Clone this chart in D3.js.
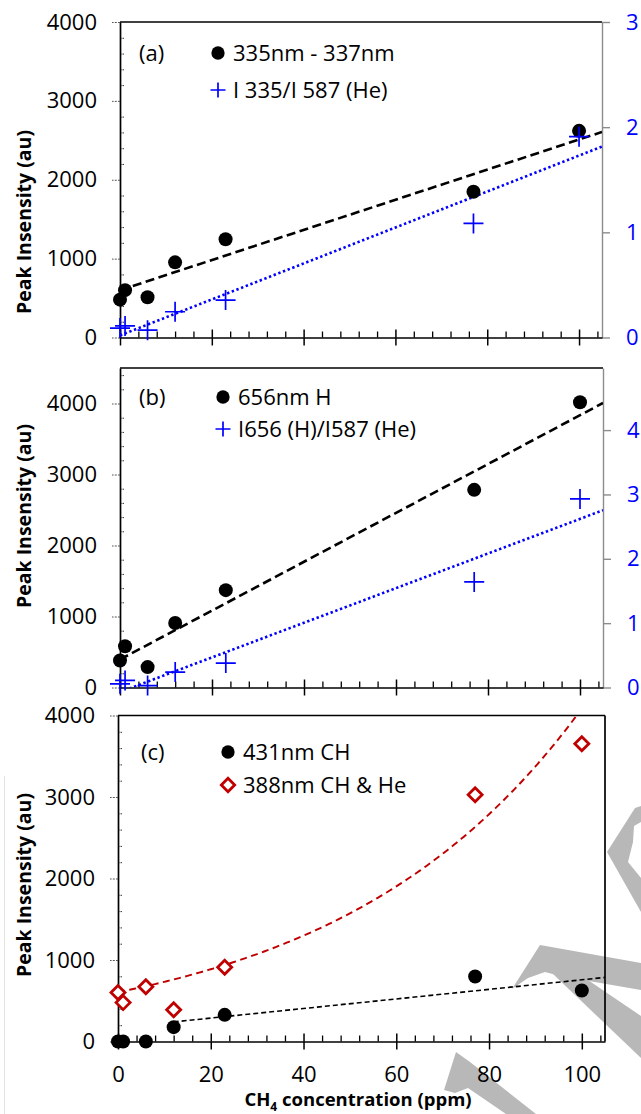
<!DOCTYPE html>
<html>
<head>
<meta charset="utf-8">
<script src="https://cdn.jsdelivr.net/npm/d3@7"></script>
<style>
  body { margin: 0; background: #fff; }
  svg { display: block; font-family: "Open Sans", Lato, sans-serif; }
</style>
</head>
<body>
<svg></svg>
<script>
// CH4 concentration (ppm), same for every series
const conc = [0, 1.1, 6, 12, 23, 77, 100];

// panel (a)
const band335 = [480, 600, 510, 953, 1245, 1848, 2620];
const ratio335 = [0.09, 0.11, 0.07, 0.245, 0.356, 1.085, 1.91];
// panel (b)
const line656 = [381, 580, 287, 909, 1371, 2784, 4018];
const ratio656 = [0.057, 0.11, 0.03, 0.24, 0.38, 1.64, 2.93];
// panel (c)
const ch431 = [0, 0, 0, 176, 327, 797, 626];
const ch388 = [600, 477, 673, 389, 912, 3027, 3653];

// trend lines: [intercept, slope] (linear) or [a, b] for a*exp(b*x)
const fit335 = [600, 19.1];
const fitRatio335 = [0.02, 0.0171];
const fit656 = [395, 34.4];
const fitRatio656 = [-0.07, 0.0269];
const fit431 = [170, 5.87];
const fit388 = [605, 0.0191];

const xTicks = [0, 20, 40, 60, 80, 100];
const leftTicks = [0, 1000, 2000, 3000, 4000];

const width = 641, height = 1114;
const blue = "#0000ff", red = "#c00000";
const tickFont = 22;

const svg = d3.select("svg")
    .attr("width", width)
    .attr("height", height);

// grey watermark in the lower right corner (under the chart)
const wm = svg.append("g").attr("fill", "#b8b8b8");
wm.append("path").attr("d", "M635,808 L641,806 L641,822 L634,826 L633,842 L628,862 L641,878 L641,912 L607,852 Z");
wm.append("path").attr("d", "M540,945 L641,963 L641,990 L560,976 L545,972 L528,978 L512,989 Z");
wm.append("path").attr("d", "M553,974 L582,976 L641,1016 L641,1058 Z");
wm.append("path").attr("d", "M456,1052 L470,1062 L536,1114 L506,1114 L468,1088 L455,1093 L444,1090 Z");

// faint chart-area frame of the last chart
svg.append("line")
    .attr("x1", 4.5).attr("x2", 4.5).attr("y1", 776).attr("y2", height)
    .attr("stroke", "#e2e2e2");

const panels = [
    {
        id: "a", label: "(a)", x0: 120, x1: 602, top: 22, bottom: 337.5, leftMax: 4000,
        rightMax: 3, rightTicks: [0, 1, 2, 3], titleY: 222,
        legendX: 218, legendY: [53, 90], labelX: 139,
        series: [
            { name: "335nm - 337nm", values: band335, axis: "left", mark: "circle" },
            { name: "I 335/I 587 (He)", values: ratio335, axis: "right", mark: "plus" }
        ],
        fits: [
            { coef: fit335, axis: "left", from: 0, kind: "lin", color: "#000", w: 2.6, dash: "9,4.5" },
            { coef: fitRatio335, axis: "right", from: 0, kind: "lin", color: blue, w: 2.6, dash: "2.4,2.6" }
        ]
    },
    {
        id: "b", label: "(b)", x0: 120, x1: 603, top: 368, bottom: 687.5, leftMax: 4500,
        rightMax: 4.965, rightTicks: [0, 1, 2, 3, 4], titleY: 516,
        legendX: 223, legendY: [397, 429], labelX: 139,
        series: [
            { name: "656nm H", values: line656, axis: "left", mark: "circle" },
            { name: "I656 (H)/I587 (He)", values: ratio656, axis: "right", mark: "plus" }
        ],
        fits: [
            { coef: fit656, axis: "left", from: 0, kind: "lin", color: "#000", w: 2.6, dash: "9,4.5" },
            { coef: fitRatio656, axis: "right", from: 0, kind: "lin", color: blue, w: 2.6, dash: "2.4,2.6" }
        ]
    },
    {
        id: "c", label: "(c)", x0: 118, x1: 605, top: 715.5, bottom: 1041.5, leftMax: 4000,
        rightMax: null, titleY: 885,
        legendX: 228, legendY: [752, 785], labelX: 141, xLabels: true,
        series: [
            { name: "431nm CH", values: ch431, axis: "left", mark: "circle" },
            { name: "388nm CH & He", values: ch388, axis: "left", mark: "diamond" }
        ],
        fits: [
            { coef: fit431, axis: "left", from: 12, kind: "lin", color: "#000", w: 1.6, dash: "5,3" },
            { coef: fit388, axis: "left", from: 0, kind: "exp", color: red, w: 1.9, dash: "7,4.5" }
        ]
    }
];

function marker(g, mark, size) {
    if (mark === "circle") {
        g.append("circle").attr("r", 7 * size).attr("fill", "#000");
    } else if (mark === "plus") {
        const s = 10 * size;
        g.append("path").attr("d", `M${-s},0H${s}M0,${-s}V${s}`)
            .attr("stroke", blue).attr("stroke-width", 1.7).attr("fill", "none");
    } else {
        const s = 7 * size;
        g.append("path").attr("d", `M0,${-s}L${s},0L0,${s}L${-s},0Z`)
            .attr("stroke", red).attr("stroke-width", 2.8).attr("fill", "#fff");
    }
}

panels.forEach(p => {
    const g = svg.append("g").attr("class", "panel-" + p.id);

    const x = d3.scaleLinear().domain([0, 105]).range([p.x0, p.x1]);
    const yL = d3.scaleLinear().domain([0, p.leftMax]).range([p.bottom, p.top]);
    const yR = p.rightMax ? d3.scaleLinear().domain([0, p.rightMax]).range([p.bottom, p.top]) : null;

    // top border
    g.append("line")
        .attr("x1", p.x0).attr("x2", p.x1).attr("y1", p.top).attr("y2", p.top)
        .attr("stroke", "#000").attr("stroke-width", 1.7);

    // right axis or border
    if (yR) {
        const ra = g.append("g")
            .attr("transform", `translate(${p.x1},0)`)
            .call(d3.axisRight(yR).tickValues(p.rightTicks).tickSize(8).tickSizeOuter(0).tickPadding(16).tickFormat(d3.format("d")));
        ra.select(".domain").attr("stroke", "#8c8c8c").attr("stroke-width", 1.4);
        ra.selectAll(".tick line").attr("stroke", "#8c8c8c").attr("stroke-width", 1.4);
        ra.selectAll(".tick text").attr("fill", blue).attr("font-size", tickFont).attr("font-family", "Open Sans");
    } else {
        g.append("line")
            .attr("x1", p.x1).attr("x2", p.x1).attr("y1", p.top).attr("y2", p.bottom)
            .attr("stroke", "#000").attr("stroke-width", 1.7);
    }

    // left axis: major ticks outside, minor ticks inside
    const minorY = d3.range(200, p.leftMax, 200).filter(v => v % 1000 !== 0);
    g.append("g")
        .attr("transform", `translate(${p.x0},0)`)
        .call(d3.axisRight(yL).tickValues(minorY).tickSize(5).tickSizeOuter(0).tickFormat(""))
        .call(a => a.select(".domain").remove())
        .selectAll(".tick line").attr("stroke", "#333").attr("stroke-dasharray", "1.5,1");

    const la = g.append("g")
        .attr("transform", `translate(${p.x0},0)`)
        .call(d3.axisLeft(yL).tickValues(leftTicks).tickSize(8).tickSizeOuter(0).tickPadding(15).tickFormat(d3.format("d")));
    la.select(".domain").attr("stroke", "#000").attr("stroke-width", 1.7);
    la.selectAll(".tick line").attr("stroke", "#555").attr("stroke-dasharray", "2,1.2");
    la.selectAll(".tick text").attr("fill", "#000").attr("font-size", tickFont).attr("font-family", "Open Sans");

    // bottom axis: major ticks cross the line, minor ticks inside
    const minorX = d3.range(4, 105, 4).filter(v => v % 20 !== 0);
    g.append("g")
        .attr("transform", `translate(0,${p.bottom})`)
        .call(d3.axisTop(x).tickValues(minorX).tickSize(6).tickSizeOuter(0).tickFormat(""))
        .call(a => a.select(".domain").remove())
        .selectAll(".tick line").attr("stroke", "#000").attr("stroke-width", 1.3);

    g.append("g")
        .attr("transform", `translate(0,${p.bottom})`)
        .call(d3.axisTop(x).tickValues(xTicks).tickSize(8).tickSizeOuter(0).tickFormat(""))
        .call(a => a.select(".domain").remove())
        .selectAll(".tick line").attr("stroke", "#000").attr("stroke-width", 1.5);

    const ba = g.append("g")
        .attr("transform", `translate(0,${p.bottom})`)
        .call(d3.axisBottom(x).tickValues(xTicks).tickSize(8).tickSizeOuter(0).tickPadding(17)
            .tickFormat(p.xLabels ? d3.format("d") : ""));
    ba.select(".domain").attr("stroke", "#000").attr("stroke-width", 1.7);
    ba.selectAll(".tick line").attr("stroke", "#000").attr("stroke-width", 1.5);
    ba.selectAll(".tick text").attr("fill", "#000").attr("font-size", tickFont).attr("font-family", "Open Sans");

    // y title
    g.append("text")
        .attr("transform", `translate(24,${p.titleY}) rotate(-90)`)
        .attr("text-anchor", "middle")
        .attr("dy", "0.35em")
        .attr("font-weight", "bold")
        .attr("font-size", 19.5)
        .text("Peak Insensity (au)");

    // trend lines, clipped to the plot area
    g.append("clipPath").attr("id", "clip-" + p.id)
        .append("rect")
        .attr("x", p.x0).attr("y", p.top)
        .attr("width", p.x1 - p.x0).attr("height", p.bottom - p.top);

    const fitG = g.append("g").attr("clip-path", `url(#clip-${p.id})`);
    p.fits.forEach(f => {
        const ys = f.axis === "left" ? yL : yR;
        const xs = f.kind === "lin" ? [f.from, 105] : d3.range(f.from, 105.5, 0.5);
        const fy = v => f.kind === "lin" ? f.coef[0] + f.coef[1] * v : f.coef[0] * Math.exp(f.coef[1] * v);
        fitG.append("path")
            .datum(xs)
            .attr("d", d3.line().x(v => x(v)).y(v => ys(fy(v))))
            .attr("fill", "none")
            .attr("stroke", f.color)
            .attr("stroke-width", f.w)
            .attr("stroke-dasharray", f.dash);
    });

    // markers
    p.series.forEach(s => {
        const ys = s.axis === "left" ? yL : yR;
        g.append("g").selectAll("g")
            .data(s.values)
            .enter()
            .append("g")
            .attr("transform", (d, i) => `translate(${x(conc[i])},${ys(d)})`)
            .each(function () { marker(d3.select(this), s.mark, 1); });
    });

    // panel label and legend
    g.append("text")
        .attr("x", p.labelX).attr("y", p.legendY[0]).attr("dy", "0.35em")
        .attr("font-size", tickFont).text(p.label);

    p.series.forEach((s, i) => {
        const lg = g.append("g").attr("transform", `translate(${p.legendX},${p.legendY[i]})`);
        marker(lg, s.mark, s.mark === "plus" ? 0.75 : 0.95);
        lg.append("text")
            .attr("x", 15).attr("dy", "0.35em")
            .attr("font-size", tickFont)
            .text(s.name);
    });
});

// x title
const xt = svg.append("text")
    .attr("x", 358).attr("y", 1106)
    .attr("text-anchor", "middle")
    .attr("font-weight", "bold")
    .attr("font-size", 18.5);
xt.append("tspan").text("CH");
xt.append("tspan").attr("font-size", 12).attr("dy", 5).text("4");
xt.append("tspan").attr("dy", -5).text(" concentration (ppm)");
</script>
</body>
</html>
